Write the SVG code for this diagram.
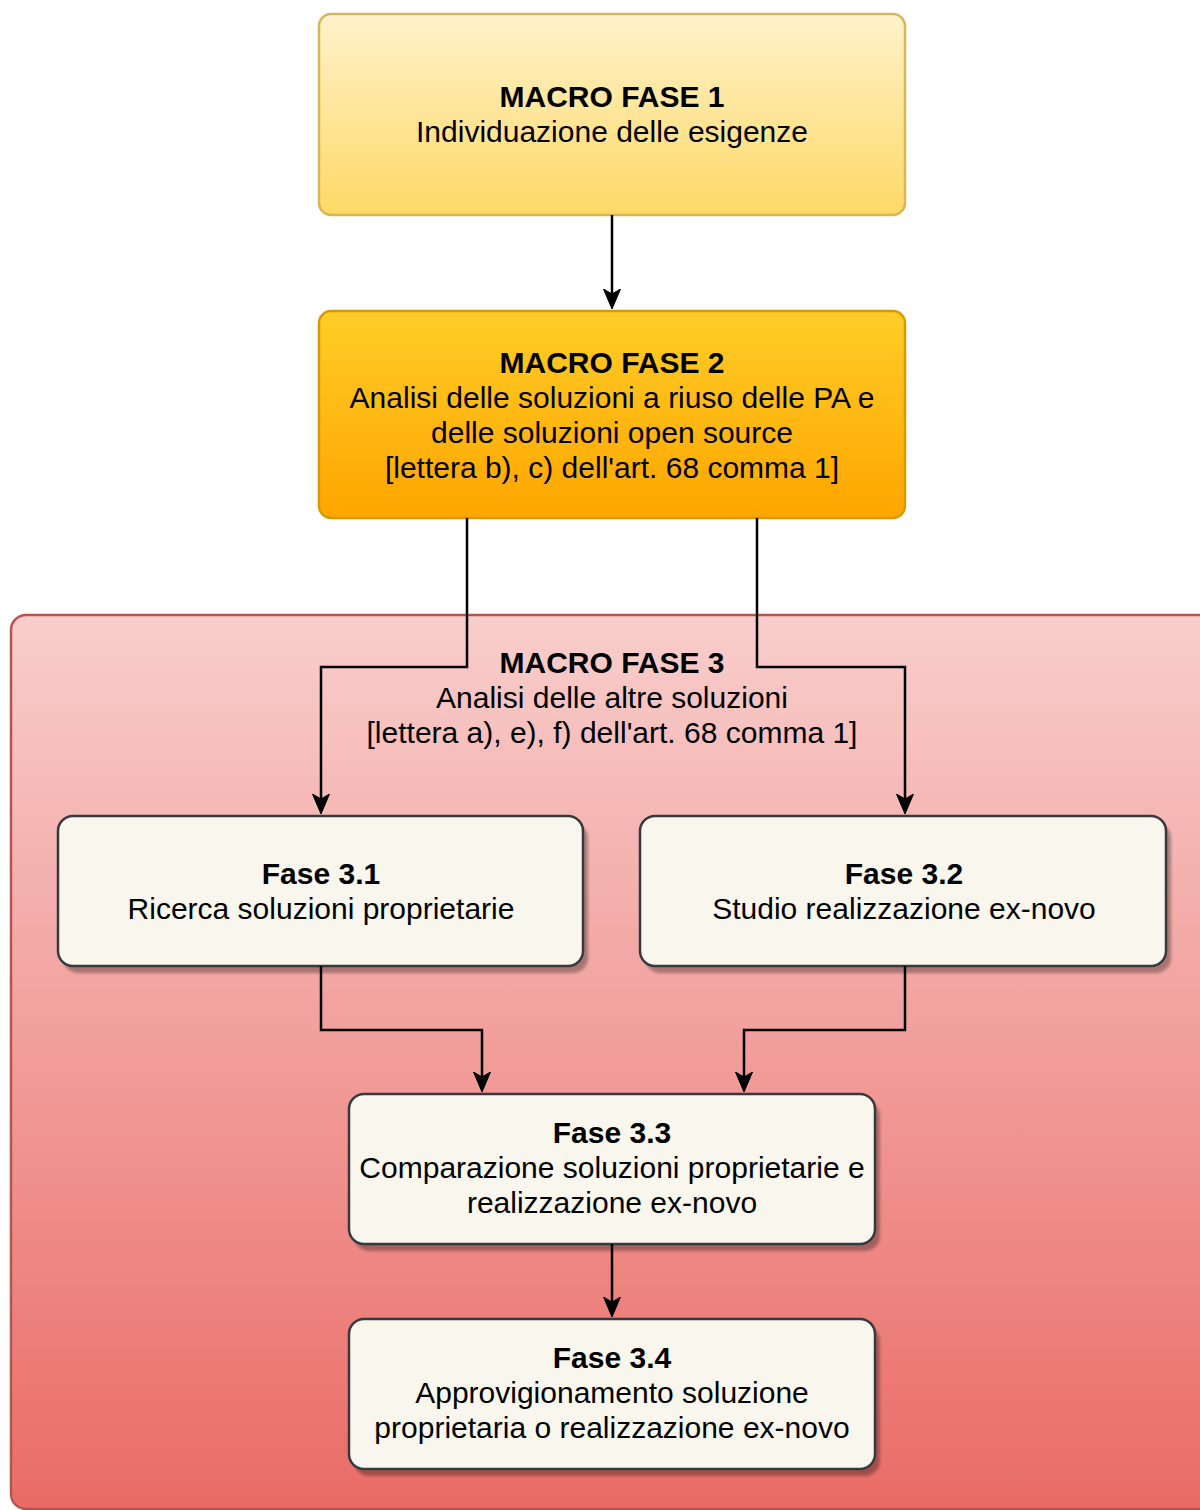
<svg xmlns="http://www.w3.org/2000/svg" width="1200" height="1510" viewBox="0 0 1200 1510">
  <style>
    text { font-family: "Liberation Sans", Arial, Helvetica, sans-serif; font-size: 30px; fill: #000; text-anchor: middle; }
    .b { font-weight: bold; }
    .fase { fill: #f9f7ed; stroke: #36393d; stroke-width: 2.5; }
    .shadow { fill: #000; opacity: 0.3; filter: url(#blur); }
    .conn { fill: none; stroke: #000; stroke-width: 2.5; marker-end: url(#arrow); }
  </style>
  <defs>
    <linearGradient id="gMF1" x1="0" y1="0" x2="0" y2="1">
      <stop offset="0" stop-color="#fff2cc"/>
      <stop offset="1" stop-color="#ffd966"/>
    </linearGradient>
    <linearGradient id="gMF2" x1="0" y1="0" x2="0" y2="1">
      <stop offset="0" stop-color="#ffcd28"/>
      <stop offset="1" stop-color="#ffa500"/>
    </linearGradient>
    <linearGradient id="gMF3" x1="0" y1="0" x2="0" y2="1">
      <stop offset="0" stop-color="#f8cecc"/>
      <stop offset="1" stop-color="#ea6b66"/>
    </linearGradient>
    <filter id="blur" x="-5%" y="-5%" width="110%" height="110%">
      <feGaussianBlur stdDeviation="1.5"/>
    </filter>
    <marker id="arrow" viewBox="0 0 20 20" refX="16" refY="10" markerWidth="20" markerHeight="20" markerUnits="userSpaceOnUse" orient="auto">
      <path d="M0,1.5 L20,10 L0,18.5 L5,10 Z" fill="#000" stroke="#000" stroke-width="1"/>
    </marker>
  </defs>

  <g id="macro-fase-3">
    <rect x="11" y="615" width="1205" height="894" rx="15" ry="15" fill="url(#gMF3)" stroke="#b85450" stroke-width="2.5"/>
    <text x="612" y="673" class="b">MACRO FASE 3</text>
    <text x="612" y="708">Analisi delle altre soluzioni</text>
    <text x="612" y="743">[lettera a), e), f) dell'art. 68 comma 1]</text>
  </g>

  <g id="macro-fase-1">
    <rect x="319" y="14" width="586" height="201" rx="12" ry="12" fill="url(#gMF1)" stroke="#d6b656" stroke-width="2.5"/>
    <text x="612" y="107" class="b">MACRO FASE 1</text>
    <text x="612" y="142">Individuazione delle esigenze</text>
  </g>

  <g id="macro-fase-2">
    <rect x="319" y="311" width="586" height="207" rx="12" ry="12" fill="url(#gMF2)" stroke="#d79b00" stroke-width="2.5"/>
    <text x="612" y="373" class="b">MACRO FASE 2</text>
    <text x="612" y="408">Analisi delle soluzioni a riuso delle PA e</text>
    <text x="612" y="443">delle soluzioni open source</text>
    <text x="612" y="478">[lettera b), c) dell'art. 68 comma 1]</text>
  </g>

  <g id="fase-3-1">
    <rect class="shadow" x="63" y="823" width="525" height="150" rx="15" ry="15"/>
    <rect class="fase" x="58" y="816" width="525" height="150" rx="15" ry="15"/>
    <text x="321" y="884" class="b">Fase 3.1</text>
    <text x="321" y="919">Ricerca soluzioni proprietarie</text>
  </g>

  <g id="fase-3-2">
    <rect class="shadow" x="645" y="823" width="526" height="150" rx="15" ry="15"/>
    <rect class="fase" x="640" y="816" width="526" height="150" rx="15" ry="15"/>
    <text x="904" y="884" class="b">Fase 3.2</text>
    <text x="904" y="919">Studio realizzazione ex-novo</text>
  </g>

  <g id="fase-3-3">
    <rect class="shadow" x="354" y="1101" width="526" height="150" rx="15" ry="15"/>
    <rect class="fase" x="349" y="1094" width="526" height="150" rx="15" ry="15"/>
    <text x="612" y="1143" class="b">Fase 3.3</text>
    <text x="612" y="1178">Comparazione soluzioni proprietarie e</text>
    <text x="612" y="1213">realizzazione ex-novo</text>
  </g>

  <g id="fase-3-4">
    <rect class="shadow" x="354" y="1326" width="526" height="150" rx="15" ry="15"/>
    <rect class="fase" x="349" y="1319" width="526" height="150" rx="15" ry="15"/>
    <text x="612" y="1368" class="b">Fase 3.4</text>
    <text x="612" y="1403">Approvigionamento soluzione</text>
    <text x="612" y="1438">proprietaria o realizzazione ex-novo</text>
  </g>

  <g id="connectors">
    <path class="conn" d="M612,215 L612,305"/>
    <path class="conn" d="M467,518 L467,667 L321,667 L321,810"/>
    <path class="conn" d="M757,518 L757,667 L905,667 L905,810"/>
    <path class="conn" d="M321,966 L321,1030 L482,1030 L482,1088"/>
    <path class="conn" d="M905,966 L905,1030 L744,1030 L744,1088"/>
    <path class="conn" d="M612,1244 L612,1313"/>
  </g>
</svg>
